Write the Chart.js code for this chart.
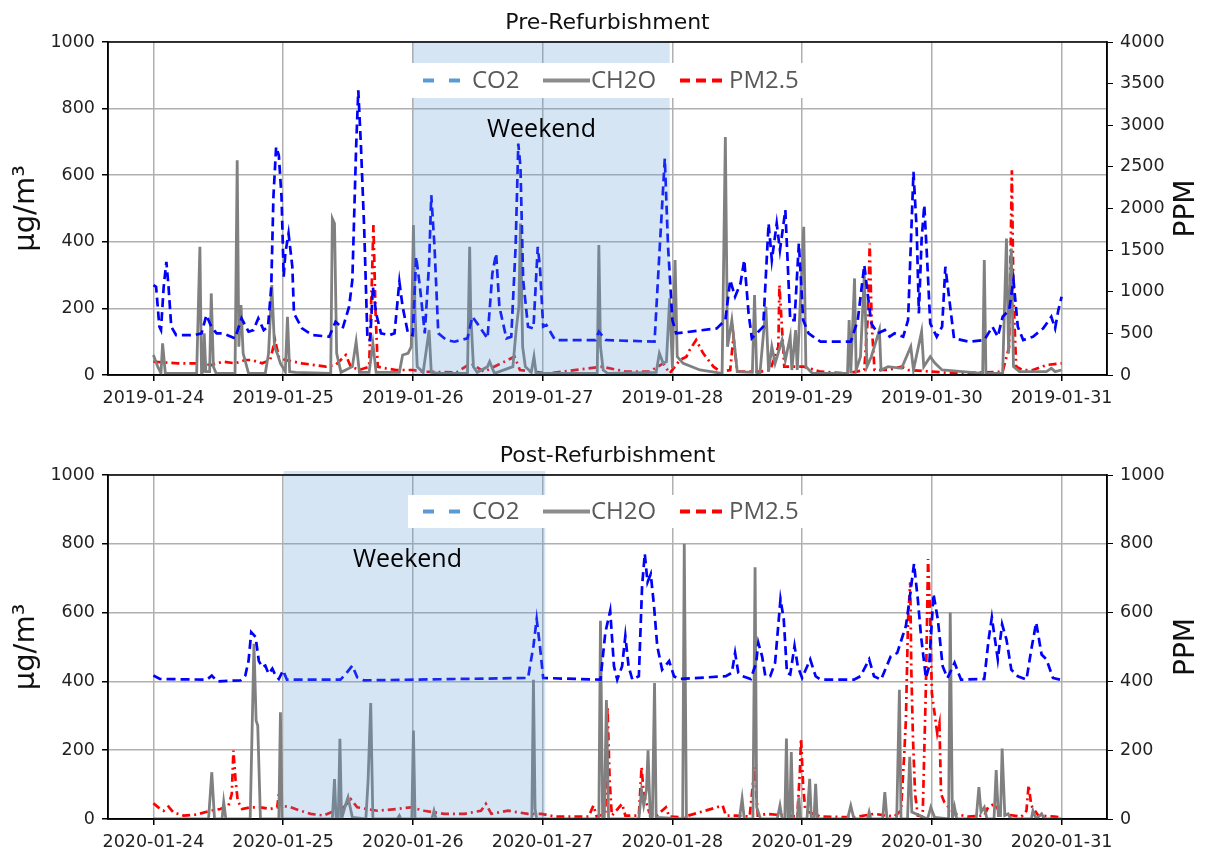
<!DOCTYPE html>
<html>
<head>
<meta charset="utf-8">
<script src="https://cdn.jsdelivr.net/npm/chart.js@4.4.1/dist/chart.umd.min.js"></script>
<style>
    html, body { margin: 0; padding: 0; background: #fff; }
    #wrap { position: relative; width: 1213px; height: 852px; }
    canvas { position: absolute; left: 0; }
</style>
</head>
<body>
<div id="wrap">
    <canvas id="preChart" width="1213" height="430" style="top:0"></canvas>
    <canvas id="postChart" width="1213" height="422" style="top:430px"></canvas>
</div>
<script>
// Axe des x : heures depuis minuit du premier jour
const dayHours = [0, 24, 48, 72, 96, 120, 144, 168];
const preDates = ['2019-01-24', '2019-01-25', '2019-01-26', '2019-01-27', '2019-01-28', '2019-01-29', '2019-01-30', '2019-01-31'];
const postDates = ['2020-01-24', '2020-01-25', '2020-01-26', '2020-01-27', '2020-01-28', '2020-01-29', '2020-01-30', '2020-01-31'];

// Pre-Refurbishment : CO2 (PPM, axe droit)
const preCO2Hours = [0, 0.5, 1.1, 1.4, 1.9, 2.4, 2.8, 3.3, 4.2, 7.6, 8.9, 9.8, 10.7, 11.7, 12.9, 15.1, 16.3, 17.6, 18.5, 19.4, 20.4, 21.2, 21.8, 22.2, 22.7, 23.2, 23.7, 24.1, 24.4, 25.0, 25.7, 26.0, 27.5, 29.4, 32.5, 33.7, 35.0, 36.2, 36.8, 37.5, 37.9, 38.4, 39.0, 39.6, 40.1, 40.6, 41.2, 42.1, 43.7, 44.6, 45.5, 46.1, 47.1, 48.0, 48.6, 49.3, 50.2, 51.0, 51.4, 52.0, 52.7, 54.2, 55.7,
    58.1, 59.0, 59.9, 61.8, 62.7, 63.4, 64.0, 65.3, 66.2, 67.0, 67.5, 67.9, 68.4, 69.3, 70.3, 71.1, 71.5, 72.1, 72.7, 74.3, 81.8, 82.4, 83.7, 92.7, 93.6, 94.6, 95.2, 96.0, 96.7, 104.2, 105.8, 106.7, 107.6, 108.6, 109.3, 110.1, 110.7,
    112.8, 113.8, 114.4, 115.3, 115.9, 116.9, 117.8, 118.6, 119.4, 120.2, 121.2, 123.4, 129.0, 130.3, 131.5, 132.2, 132.8, 134.0, 135.3, 136.2, 137.1, 138.7, 139.6, 140.6, 141.2, 141.6, 142.1, 142.6, 143.1, 143.7, 144.9, 145.9, 146.5, 147.1, 148.1, 150.9, 153.7, 155.2, 156.2, 157.1, 158.3, 159.1, 159.9, 160.9, 162.7, 164.6, 166.1, 166.8, 167.4, 168.0];
const preCO2 = [1080, 1060, 580, 540, 1060, 1360, 1060, 580, 480, 480, 500, 720, 580, 500, 500, 440, 680, 520, 540, 680, 540, 580, 1060, 2140, 2740, 2640, 2140, 1180, 1460, 1700, 1300, 740, 560, 480, 460, 640, 560, 820, 1140, 2740, 3420, 2740, 1740, 420, 420, 1060, 740, 500, 480, 500, 1120, 820, 500, 480, 1420, 1060, 500, 1340, 2160, 1540, 500, 420, 400,
    440, 700, 620, 440, 1220, 1460, 820, 440, 460, 1540, 2780, 2500, 1140, 580, 560, 1540, 1300, 580, 600, 420, 420, 520, 420, 400, 1460, 2600, 1540, 660, 500, 560, 660, 1140, 940, 1100, 1380, 740, 440,
    580, 1820, 1380, 1820, 1500, 1980, 660, 660, 1580, 660, 500, 400, 400, 660, 1320, 940, 620, 500, 540, 460, 500, 460, 660, 2440, 1740, 740, 1620, 2040, 1420, 620, 460, 580, 1300, 980, 440, 400, 420, 580, 460, 700, 780, 1140, 580, 420, 460, 560, 700, 560, 780, 940];

// Pre-Refurbishment : CH2O (µg/m³)
const preCH2OHours = [0, 0.8, 1.4, 1.7, 2.2, 8.0, 8.6, 8.9, 9.2, 9.4, 9.7, 10.4, 10.7, 11.1, 11.6, 15.1, 15.5, 15.8, 16.2, 16.6, 17.6, 20.7, 21.3, 21.9, 22.4, 22.9, 23.5, 24.4, 24.8, 25.2, 26.3, 32.8, 33.1, 33.5, 33.9, 34.7, 36.8, 37.5, 38.1, 39.9, 40.6, 41.2, 45.5, 46.1, 47.1, 47.7, 48.1, 48.4, 48.8, 49.9, 51.0, 51.4, 53.0,
    58.1, 58.5, 58.7, 59.2, 59.9, 61.8, 62.2, 62.7, 63.1, 66.5, 67.1, 67.6, 67.9, 68.3, 68.8, 69.9, 70.4, 70.8, 82.1, 82.4, 82.7, 83.2, 84.0, 93.0, 93.6, 94.3, 94.9, 95.5, 96.0, 96.5, 96.9, 98.0, 101.1, 105.2, 105.8, 106.2, 107.0, 108.0, 110.8, 111.2, 111.6,
    112.2, 113.3, 113.8, 114.4, 115.0, 116.3, 116.9, 117.8, 118.1, 118.8, 119.1, 120.3, 120.7, 121.9, 128.4, 128.7, 129.0, 129.7, 130.0, 130.8, 131.5, 132.0, 132.8, 134.3, 134.6, 135.9, 138.4, 140.1, 140.6, 142.1, 142.5, 143.7, 144.6, 145.9, 153.4, 153.7, 154.0, 157.1, 157.8, 158.2, 158.7, 159.1, 160.2, 165.2, 166.1, 166.8, 168.0];
const preCH2O = [60, 25, 5, 95, 5, 5, 385, 5, 10, 125, 10, 10, 245, 25, 5, 5, 645, 85, 210, 65, 5, 5, 65, 270, 85, 65, 35, 10, 175, 10, 8, 5, 470, 455, 65, 8, 25, 100, 8, 8, 95, 8, 8, 60, 65, 85, 450, 185, 25, 8, 135, 8, 5,
    5, 385, 185, 25, 8, 25, 40, 20, 5, 25, 135, 205, 455, 85, 25, 8, 55, 5, 5, 390, 85, 15, 5, 8, 65, 35, 40, 230, 20, 345, 55, 35, 15, 5, 715, 85, 165, 10, 8, 240, 8,
    5, 205, 10, 85, 35, 105, 45, 115, 15, 135, 15, 445, 25, 5, 5, 165, 5, 290, 15, 55, 300, 25, 55, 135, 15, 25, 20, 85, 15, 130, 25, 55, 35, 15, 5, 345, 5, 5, 410, 65, 380, 25, 10, 10, 20, 10, 15];

// Pre-Refurbishment : PM2.5 (µg/m³)
const prePMHours = [0, 4.5, 8.3, 10.7, 12.9, 15.1, 17.0, 18.2, 20.1, 21.6, 22.5, 23.2, 24.4, 27.5, 31.9, 33.7, 35.6, 36.5, 38.1, 39.9, 40.4, 40.7, 41.1, 41.5, 43.0, 44.9, 48.0, 49.9, 56.1, 58.7, 61.2, 66.8, 67.8, 73.0, 83.0, 87.4, 91.8, 94.3, 95.5, 97.4, 98.6, 99.2, 100.4, 101.7, 103.6, 104.9, 106.7, 107.3, 108.0, 112.3, 114.1, 115.6, 115.8, 116.3, 116.7, 120.3, 123.4, 128.4, 131.5, 132.2, 132.5, 132.9, 133.4, 135.9, 138.4, 139.6, 144.0, 148.4, 157.1, 158.3, 158.8, 159.1, 159.6, 160.8, 162.7, 165.2, 168.0];
const prePM = [40, 35, 35, 30, 40, 35, 45, 45, 35, 45, 105, 55, 45, 35, 25, 30, 60, 25, 15, 25, 275, 450, 185, 25, 20, 15, 15, 10, 8, 35, 10, 55, 15, 5, 25, 10, 10, 35, 5, 45, 55, 75, 105, 65, 25, 10, 15, 115, 10, 10, 15, 85, 270, 135, 25, 25, 10, 5, 15, 185, 395, 145, 15, 15, 25, 15, 10, 5, 10, 85, 615, 235, 25, 15, 15, 30, 35];

// Post-Refurbishment : CO2 (PPM, axe droit)
const postCO2Hours = [0, 1.2, 9.9, 10.8, 11.8, 16.1, 17.0, 17.6, 18.1, 18.9, 19.5, 20.1, 20.7, 21.3, 22.0, 22.6, 23.2, 24.0, 24.7, 34.6, 35.6, 36.8, 37.7, 39.0, 69.3, 70.3, 70.9, 71.5, 72.1, 82.7, 83.6, 84.5, 85.2, 85.8, 86.7, 87.3, 87.9, 88.6, 89.8, 90.4, 90.9, 91.4, 92.0, 92.6, 93.2, 94.1, 95.4, 96.3, 97.2, 105.9, 107.0, 107.6, 108.2, 109.0, 110.5, 111.5, 111.9, 112.6, 113.2, 114.1, 115.0, 116.0, 116.6, 117.2, 117.8, 118.6, 119.2, 120.0, 121.5, 122.5, 123.4, 129.6, 130.8, 132.4, 133.3, 134.6, 136.4, 137.6, 138.6, 139.2, 139.8, 140.7, 141.4, 142.0, 142.9, 143.5, 144.3, 145.1, 146.0, 146.9, 148.2, 149.4, 153.7, 154.5, 155.1, 156.2, 157.0, 157.8, 158.7, 159.9, 161.5, 162.4, 163.3, 164.3, 165.2, 166.4, 167.7];
const postCO2 = [417, 407, 405, 417, 400, 403, 417, 460, 543, 529, 460, 441, 446, 422, 437, 417, 407, 432, 405, 405, 422, 446, 412, 403, 410, 503, 581, 503, 410, 405, 542, 605, 444, 405, 444, 532, 444, 405, 415, 678, 771, 688, 712, 620, 503, 434, 459, 415, 407, 415, 425, 483, 425, 415, 407, 454, 512, 473, 415, 415, 454, 639, 581, 425, 420, 503, 444, 410, 464, 415, 405, 405, 415, 464, 415, 405, 473, 483, 532, 561, 630, 742, 639, 532, 410, 444, 654, 581, 444, 410, 454, 405, 407, 522, 586, 464, 566, 522, 434, 415, 405, 493, 571, 478, 464, 410, 405];

// Post-Refurbishment : CH2O (µg/m³)
const postCH2OHours = [0, 10.2, 10.8, 11.3, 12.7, 13.0, 13.4, 17.9, 18.6, 19.0, 19.3, 19.8, 23.2, 23.5, 23.8, 33.1, 33.5, 33.8, 34.2, 34.5, 34.8, 35.6, 36.0, 36.8, 39.3, 39.7, 40.2, 40.6, 45.1, 45.5, 45.8, 47.8, 48.1, 48.4, 51.5, 51.9, 52.3, 70.0, 70.3, 70.6, 70.9, 82.4, 82.7, 83.1, 83.4, 83.8, 84.2, 89.8, 90.3, 90.7, 91.2, 91.5, 91.9, 92.3, 92.7, 93.0, 97.9, 98.2, 98.6, 108.4, 108.9, 109.3, 110.9, 111.3, 111.6, 112.3, 115.4, 115.9, 116.3, 116.8, 117.1, 117.4, 117.7, 118.0, 118.3, 119.1, 119.4, 119.7, 120.9, 121.4, 121.7, 122.2, 122.5, 122.8, 128.4, 129.0, 129.6, 132.1, 132.4, 132.7, 134.9, 135.3, 135.7, 137.5, 138.0, 138.3, 139.5, 139.9, 140.3, 143.2, 143.8, 144.5, 147.1, 147.4, 147.8, 148.2, 148.6, 152.2, 152.7, 153.1, 153.7, 154.2, 155.5, 155.9, 156.3, 156.7, 157.0, 157.5, 158.1, 158.6, 162.4, 162.7, 163.3, 164.3, 164.8, 168.0];
const postCH2O = [0, 0, 136, 0, 0, 49, 0, 0, 509, 286, 272, 0, 0, 310, 0, 0, 116, 0, 0, 233, 0, 44, 63, 5, 0, 107, 337, 0, 0, 10, 0, 0, 257, 0, 0, 24, 0, 0, 405, 30, 0, 0, 576, 0, 0, 346, 0, 0, 83, 40, 83, 200, 5, 5, 395, 5, 0, 800, 0, 0, 59, 0, 0, 732, 34, 0, 0, 39, 0, 0, 234, 0, 0, 195, 0, 0, 63, 0, 0, 117, 0, 0, 102, 0, 0, 39, 0, 0, 20, 0, 0, 78, 0, 0, 376, 0, 0, 181, 20, 0, 34, 5, 0, 600, 0, 34, 0, 0, 93, 20, 34, 0, 0, 142, 10, 10, 205, 10, 15, 0, 0, 24, 0, 15, 0, 0];

// Post-Refurbishment : PM2.5 (µg/m³)
const postPMHours = [0, 0.9, 1.9, 2.8, 3.7, 5.6, 8.0, 10.5, 12.4, 13.9, 14.5, 14.8, 15.2, 15.6, 16.4, 17.9, 19.8, 21.6, 22.9, 23.2, 23.6, 25.4, 27.2, 29.1, 31.5, 32.8, 35.2, 36.5, 37.7, 41.4, 45.1, 47.6, 50.1, 53.8, 57.5, 60.6, 61.5, 62.5, 65.6, 69.3, 71.8, 74.3, 80.5, 81.4, 82.0, 83.6, 84.0, 84.4, 84.8, 86.7, 87.3, 89.8, 90.3, 90.7, 91.7, 92.9, 94.8, 95.4, 97.9, 105.3, 105.9, 107.8, 110.3, 111.2, 111.8, 113.5, 119.1, 119.6, 119.8, 120.2, 120.6, 123.4, 129.6, 133.3, 137.0, 138.3, 138.9, 139.2, 139.6, 140.0, 140.2, 140.5, 140.9, 141.4, 142.3, 142.9, 143.3, 143.7, 144.0, 144.5, 145.0, 145.4, 145.7, 146.3, 148.2, 150.7, 153.7, 154.4, 155.6, 156.8, 160.6, 161.5, 161.9, 162.4, 163.7, 166.7, 167.7];
const postPM = [46, 34, 24, 36, 19, 10, 13, 24, 29, 39, 73, 199, 112, 53, 29, 34, 34, 29, 34, 73, 39, 34, 24, 15, 10, 19, 34, 58, 34, 24, 29, 34, 24, 15, 15, 24, 44, 15, 24, 15, 15, 7, 7, 39, 7, 15, 327, 112, 10, 44, 10, 10, 151, 73, 20, 7, 34, 7, 5, 39, 10, 10, 7, 151, 10, 15, 7, 142, 234, 93, 24, 7, 5, 15, 7, 24, 190, 288, 581, 688, 434, 239, 73, 10, 7, 386, 756, 581, 366, 307, 249, 278, 73, 49, 15, 7, 10, 34, 44, 15, 7, 24, 98, 39, 10, 7, 5];

const points = (hours, values) => hours.map((h, i) => ({ x: h, y: values[i] }));

// Titres, zone week-end, légende et cadre
const overlayPlugin = {
    id: 'overlay',
    afterDatasetsDraw(chart, args, opts) {
        const { ctx, chartArea: a, scales: { x } } = chart;
        ctx.save();

        // Zone week-end (par-dessus les courbes)
        const x0 = x.getPixelForValue(opts.weekend[0]);
        const x1 = x.getPixelForValue(opts.weekend[1]);
        ctx.fillStyle = 'rgba(91, 155, 213, 0.26)';
        ctx.fillRect(x0, a.top - opts.shadeRise, x1 - x0, a.bottom - a.top + opts.shadeRise);

        // Cadre
        ctx.strokeStyle = '#000';
        ctx.lineWidth = 1.5;
        ctx.strokeRect(a.left, a.top, a.right - a.left, a.bottom - a.top);

        // Légende
        const lg = opts.legend;
        ctx.fillStyle = '#fff';
        ctx.fillRect(lg.x, lg.y, lg.w, lg.h);
        const cy = lg.y + lg.h / 2;
        ctx.lineWidth = 4;
        ctx.lineCap = 'butt';

        ctx.strokeStyle = 'rgb(91, 155, 213)';
        ctx.setLineDash([11, 15]);
        ctx.beginPath(); ctx.moveTo(423, cy); ctx.lineTo(465, cy); ctx.stroke();

        ctx.strokeStyle = '#8c8c8c';
        ctx.setLineDash([]);
        ctx.beginPath(); ctx.moveTo(543, cy); ctx.lineTo(590, cy); ctx.stroke();

        ctx.strokeStyle = '#ff0000';
        ctx.setLineDash([10, 6]);
        ctx.beginPath(); ctx.moveTo(680, cy); ctx.lineTo(722, cy); ctx.stroke();
        ctx.setLineDash([]);

        ctx.fillStyle = '#595959';
        ctx.font = '24px "Open Sans"';
        ctx.textBaseline = 'middle';
        ctx.textAlign = 'left';
        ctx.fillText('CO2', 472, cy + 1);
        ctx.fillText('CH2O', 591, cy + 1);
        ctx.fillText('PM2.5', 729, cy + 1);

        // Texte week-end
        ctx.fillStyle = '#000';
        ctx.font = '25px "Open Sans"';
        ctx.fillText('Weekend', opts.weekendLabel.x, opts.weekendLabel.y);

        // Titre
        ctx.font = '22px "DejaVu Sans"';
        ctx.textAlign = 'center';
        ctx.fillStyle = '#111';
        ctx.fillText(opts.title, (a.left + a.right) / 2, a.top - 19);

        // Titres des axes
        ctx.font = '29px "DejaVu Sans"';
        const midY = (a.top + a.bottom) / 2;
        ctx.translate(26, midY);
        ctx.rotate(-Math.PI / 2);
        ctx.fillText('μg/m³', 0, 0);
        ctx.rotate(Math.PI / 2);
        ctx.translate(1187 - 26, 0);
        ctx.rotate(-Math.PI / 2);
        ctx.font = '28px "DejaVu Sans"';
        ctx.fillText('PPM', 0, 0);

        ctx.restore();
    }
};

function buildChart(canvasId, cfg) {
    const tickFont = { family: 'DejaVu Sans', size: 17.5 };
    return new Chart(document.getElementById(canvasId), {
        type: 'line',
        data: {
            datasets: [{
                label: 'CO2',
                data: points(cfg.co2Hours, cfg.co2),
                yAxisID: 'y2',
                borderColor: '#0000ff',
                borderWidth: 2.7,
                borderDash: [9, 5],
                order: 0
            }, {
                label: 'CH2O',
                data: points(cfg.ch2oHours, cfg.ch2o),
                yAxisID: 'y',
                borderColor: '#808080',
                borderWidth: 2.8,
                order: 1
            }, {
                label: 'PM2.5',
                data: points(cfg.pmHours, cfg.pm),
                yAxisID: 'y',
                borderColor: '#ff0000',
                borderWidth: 2.7,
                borderDash: [8, 4, 2, 4],
                order: 2
            }]
        },
        options: {
            responsive: false,
            animation: false,
            events: [],
            elements: { point: { radius: 0 }, line: { tension: 0 } },
            layout: { padding: { top: cfg.padTop, left: 0, right: 0, bottom: 0 } },
            scales: {
                x: {
                    type: 'linear',
                    min: -8.4,
                    max: 176.4,
                    afterBuildTicks: scale => { scale.ticks = dayHours.map(v => ({ value: v })); },
                    afterFit: scale => { scale.height = cfg.xHeight; },
                    ticks: {
                        autoSkip: false,
                        maxRotation: 0,
                        padding: 7,
                        color: '#222',
                        font: tickFont,
                        callback: (value, index) => cfg.dates[index]
                    },
                    grid: { color: '#b0b0b0', lineWidth: 1.5, tickColor: '#000', tickLength: 6 },
                    border: { color: '#000', width: 1.5 }
                },
                y: {
                    position: 'left',
                    min: 0,
                    max: 1000,
                    afterFit: scale => { scale.width = 108; },
                    ticks: { stepSize: 200, padding: 7, color: '#222', font: tickFont, callback: v => String(v) },
                    grid: { color: '#b0b0b0', lineWidth: 1.5, tickColor: '#000', tickLength: 6 },
                    border: { color: '#000', width: 1.5 }
                },
                y2: {
                    position: 'right',
                    min: 0,
                    max: cfg.ppmMax,
                    afterFit: scale => { scale.width = 106; },
                    ticks: { stepSize: cfg.ppmStep, padding: 7, color: '#222', font: tickFont, callback: v => String(v) },
                    grid: { drawOnChartArea: false, tickColor: '#000', tickLength: 6 },
                    border: { color: '#000', width: 1.5 }
                }
            },
            plugins: {
                legend: { display: false },
                tooltip: { enabled: false },
                overlay: {
                    title: cfg.title,
                    weekend: cfg.weekend,
                    shadeRise: cfg.shadeRise,
                    weekendLabel: cfg.weekendLabel,
                    legend: cfg.legend
                }
            }
        },
        plugins: [overlayPlugin]
    });
}

buildChart('preChart', {
    title: 'Pre-Refurbishment',
    dates: preDates,
    co2Hours: preCO2Hours, co2: preCO2,
    ch2oHours: preCH2OHours, ch2o: preCH2O,
    pmHours: prePMHours, pm: prePM,
    ppmMax: 4000, ppmStep: 500,
    padTop: 42, xHeight: 55,
    weekend: [48, 95.5], shadeRise: 0,
    weekendLabel: { x: 487, y: 130 },
    legend: { x: 412, y: 63, w: 391, h: 35 }
});

buildChart('postChart', {
    title: 'Post-Refurbishment',
    dates: postDates,
    co2Hours: postCO2Hours, co2: postCO2,
    ch2oHours: postCH2OHours, ch2o: postCH2O,
    pmHours: postPMHours, pm: postPM,
    ppmMax: 1000, ppmStep: 200,
    padTop: 45, xHeight: 33,
    weekend: [24.1, 72.5], shadeRise: 4,
    weekendLabel: { x: 353, y: 130 },
    legend: { x: 408, y: 65, w: 395, h: 33 }
});
</script>
</body>
</html>
